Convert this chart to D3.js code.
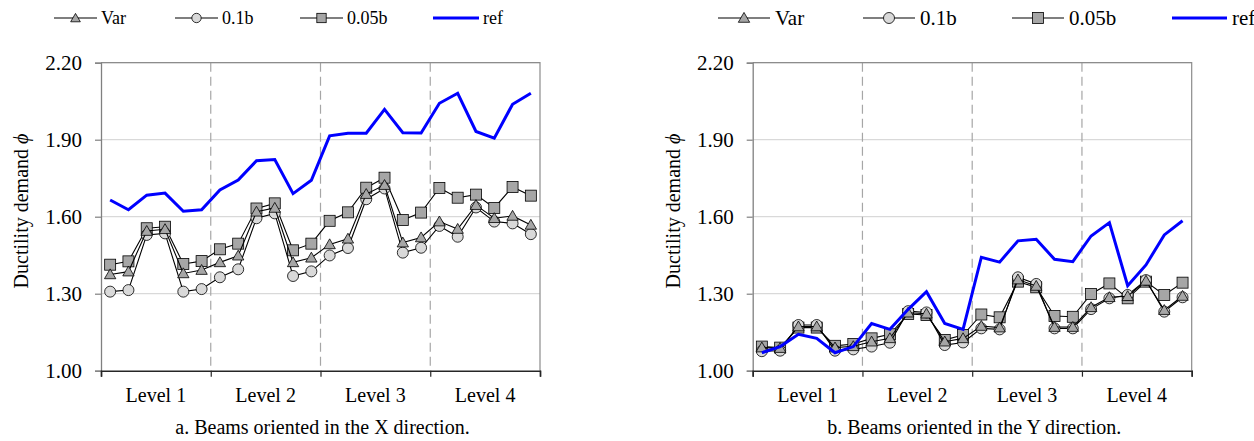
<!DOCTYPE html>
<html>
<head>
<meta charset="utf-8">
<script src="https://cdn.jsdelivr.net/npm/d3@7"></script>
<style>
  html, body { margin: 0; padding: 0; background: #fff; }
  svg { display: block; }
  svg text { font-family: "Liberation Serif", "Times New Roman", Times, "DejaVu Serif", serif !important; fill: #000; }
</style>
</head>
<body>
<svg id="chart" width="1254" height="441" font-family="Liberation Serif, serif"></svg>
<script>
// ---------- data ----------
const levels = ["Level 1", "Level 2", "Level 3", "Level 4"];
const seriesNames = ["Var", "0.1b", "0.05b", "ref"];
const yTicks = [1.00, 1.30, 1.60, 1.90, 2.20];
const captions = ["a. Beams oriented in the X direction.", "b. Beams oriented in the Y direction."];
const yLabel = "Ductility demand ";

// X direction (left panel)
const xVar  = [1.375,1.386,1.544,1.551,1.379,1.392,1.422,1.448,1.619,1.634,1.422,1.440,1.492,1.514,1.688,1.723,1.499,1.519,1.581,1.552,1.645,1.594,1.603,1.568];
const x01b  = [1.308,1.314,1.529,1.535,1.308,1.318,1.364,1.395,1.594,1.613,1.369,1.387,1.449,1.478,1.668,1.710,1.460,1.479,1.564,1.522,1.636,1.581,1.574,1.532];
const x005b = [1.413,1.426,1.555,1.561,1.416,1.427,1.473,1.495,1.632,1.652,1.469,1.495,1.584,1.617,1.713,1.752,1.587,1.616,1.712,1.674,1.686,1.634,1.716,1.682];
const xRef  = [1.665,1.627,1.684,1.692,1.621,1.627,1.704,1.743,1.818,1.823,1.690,1.742,1.915,1.925,1.925,2.018,1.927,1.926,2.042,2.081,1.932,1.906,2.038,2.081];

// Y direction (right panel)
const yVar  = [1.090,1.088,1.172,1.172,1.090,1.095,1.113,1.126,1.226,1.222,1.113,1.126,1.174,1.168,1.355,1.330,1.170,1.170,1.247,1.286,1.290,1.350,1.236,1.291];
const y01b  = [1.076,1.078,1.178,1.178,1.078,1.083,1.094,1.109,1.232,1.227,1.100,1.110,1.165,1.161,1.364,1.338,1.165,1.165,1.240,1.282,1.295,1.353,1.230,1.286];
const y005b = [1.094,1.090,1.168,1.168,1.097,1.104,1.126,1.142,1.221,1.217,1.120,1.139,1.219,1.208,1.347,1.325,1.213,1.210,1.299,1.340,1.282,1.347,1.295,1.343];
const yRef  = [1.070,1.094,1.142,1.126,1.070,1.094,1.184,1.161,1.239,1.308,1.184,1.161,1.442,1.423,1.506,1.512,1.434,1.425,1.525,1.577,1.331,1.412,1.529,1.584];

// ---------- drawing ----------
const svg = d3.select("#chart");
const SERIF = "Liberation Serif, Times New Roman, DejaVu Serif, serif";
const markerStyle = {
  "Var":   { type: "triangle", fill: "#a6a6a6" },
  "0.1b":  { type: "circle",   fill: "#d9d9d9" },
  "0.05b": { type: "square",   fill: "#a6a6a6" }
};

function drawMarker(g, type, fill, cx, cy, s) {
  const k = s || 1;
  if (type === "circle") {
    g.append("circle").attr("cx", cx).attr("cy", cy).attr("r", 5.5 * k)
      .attr("fill", fill).attr("stroke", "#000").attr("stroke-width", 0.8);
  } else if (type === "square") {
    g.append("rect").attr("x", cx - 5.5 * k).attr("y", cy - 5.5 * k).attr("width", 11 * k).attr("height", 11 * k)
      .attr("fill", fill).attr("stroke", "#000").attr("stroke-width", 0.8);
  } else {
    g.append("path").attr("d", d3.symbol(d3.symbolTriangle, 56 * k * k)())
      .attr("transform", `translate(${cx},${cy + 1})`)
      .attr("fill", fill).attr("stroke", "#000").attr("stroke-width", 0.8);
  }
}

function panel(ox, data, caption, legend) {
  const left = 101 + ox, right = 540 + ox, top = 62.7, bottom = 370.7;
  const n = data.ref.length;
  const x = d3.scaleLinear().domain([0, n]).range([left, right]);
  const y = d3.scaleLinear().domain([1.0, 2.2]).range([bottom, top]);
  const band = d3.scaleBand().domain(levels).range([left, right]);
  const g = svg.append("g");

  g.selectAll(".grid").data(yTicks.slice(1)).join("line")
    .attr("x1", left).attr("x2", right)
    .attr("y1", d => y(d)).attr("y2", d => y(d))
    .attr("stroke", "#d9d9d9").attr("stroke-width", 1.2);

  g.selectAll(".sep").data(levels.slice(1)).join("line")
    .attr("x1", d => band(d)).attr("x2", d => band(d))
    .attr("y1", top).attr("y2", bottom)
    .attr("stroke", "#a6a6a6").attr("stroke-width", 1.2).attr("stroke-dasharray", "9,5");

  g.append("path").attr("d", `M${left},${top}H${right}V${bottom}`)
    .attr("fill", "none").attr("stroke", "#8c8c8c").attr("stroke-width", 1.2);

  const ya = g.append("g").attr("transform", `translate(${left},0)`)
    .call(d3.axisLeft(y).tickValues(yTicks).tickFormat(d3.format(".2f")).tickSize(6).tickPadding(13));
  ya.attr("font-family", SERIF).attr("font-size", 21);
  ya.select(".domain").attr("stroke", "#808080").attr("stroke-width", 1.3);
  ya.selectAll(".tick line").attr("stroke", "#808080").attr("stroke-width", 1.2);
  ya.selectAll(".tick text").attr("fill", "#000");

  const xa = g.append("g").attr("transform", `translate(0,${bottom})`)
    .call(d3.axisBottom(x).tickValues(d3.range(0, n + 1, n / levels.length)).tickFormat("").tickSize(6));
  xa.select(".domain").attr("stroke", "#262626").attr("stroke-width", 1.6);
  xa.selectAll(".tick line").attr("stroke", "#262626").attr("stroke-width", 1.2);

  g.selectAll(".lvl").data(levels).join("text")
    .attr("x", d => band(d) + band.bandwidth() / 2).attr("y", 402)
    .attr("text-anchor", "middle").attr("font-family", SERIF).attr("font-size", 20).text(d => d);

  const yl = g.append("text")
    .attr("transform", `translate(${28 + ox},211) rotate(-90)`)
    .attr("text-anchor", "middle").attr("font-family", SERIF).attr("font-size", 20);
  yl.append("tspan").text(yLabel);
  yl.append("tspan").attr("font-style", "italic").text("ϕ");

  g.append("text").attr("x", (left + right) / 2 + 2).attr("y", 434)
    .attr("text-anchor", "middle").attr("font-family", SERIF).attr("font-size", 20).text(caption);

  const line = d3.line().x((d, i) => x(i + 0.5)).y(d => y(d));

  [["0.05b", data.s005], ["0.1b", data.s01], ["Var", data.var]].forEach(([name, vals]) => {
    const st = markerStyle[name];
    g.append("path").datum(vals).attr("d", line)
      .attr("fill", "none").attr("stroke", "#000").attr("stroke-width", 1.1);
    const mg = g.append("g");
    vals.forEach((v, i) => drawMarker(mg, st.type, st.fill, x(i + 0.5), y(v)));
  });

  g.append("path").datum(data.ref).attr("d", line)
    .attr("fill", "none").attr("stroke", "#0000ff").attr("stroke-width", 3);

  // legend
  const lg = g.append("g");
  const ly = 18;
  seriesNames.forEach((name, i) => {
    const lx = legend.xs[i];
    const len = legend.len;
    if (name === "ref") {
      lg.append("line").attr("x1", lx).attr("x2", lx + len + 3).attr("y1", ly).attr("y2", ly)
        .attr("stroke", "#0000ff").attr("stroke-width", 3);
    } else {
      lg.append("line").attr("x1", lx).attr("x2", lx + len).attr("y1", ly).attr("y2", ly)
        .attr("stroke", "#000").attr("stroke-width", 1.1);
      const st = markerStyle[name];
      drawMarker(lg, st.type, st.fill, lx + len / 2, ly, legend.ms);
    }
    lg.append("text").attr("x", lx + len + legend.gap + (name === "ref" ? 3 : 0)).attr("y", ly).attr("dy", "0.35em")
      .attr("font-family", SERIF).attr("font-size", legend.fs).text(name);
  });
}

panel(0,     { var: xVar, s01: x01b, s005: x005b, ref: xRef }, captions[0],
      { xs: [54, 175, 300, 433], len: 43, gap: 4, fs: 18, ms: 0.85 });
panel(651.7, { var: yVar, s01: y01b, s005: y005b, ref: yRef }, captions[1],
      { xs: [718, 863, 1012, 1172], len: 52, gap: 5, fs: 21, ms: 1 });
</script>
</body>
</html>
